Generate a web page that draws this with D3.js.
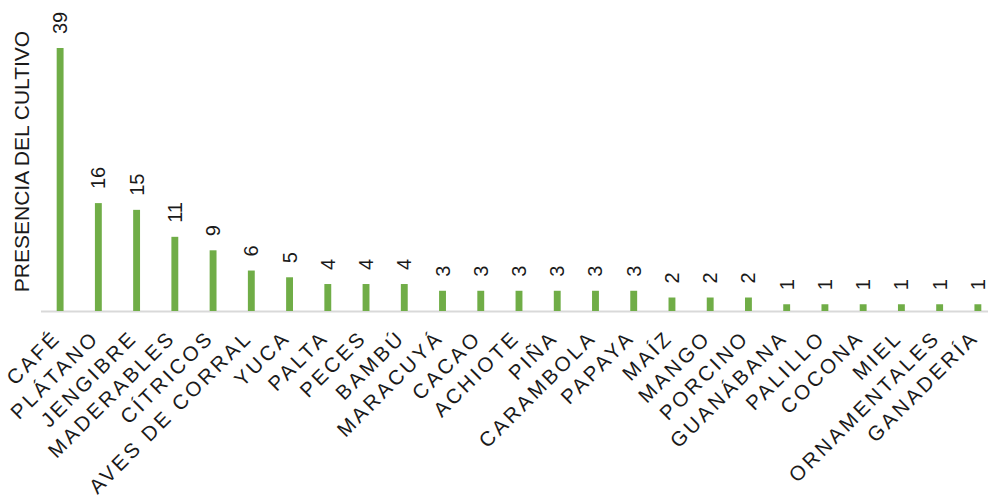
<!DOCTYPE html>
<html>
<head>
<meta charset="utf-8">
<script src="https://cdn.jsdelivr.net/npm/d3@7"></script>
<style>
  body { margin: 0; background: #fff; }
  text { font-family: "Liberation Sans", Arial, sans-serif; fill: #1a1a1a; }
</style>
</head>
<body>
<div id="chart"></div>
<script>
var categories = ["CAFÉ", "PLÁTANO", "JENGIBRE", "MADERABLES", "CÍTRICOS", "AVES DE CORRAL",
  "YUCA", "PALTA", "PECES", "BAMBÚ", "MARACUYÁ", "CACAO", "ACHIOTE", "PIÑA", "CARAMBOLA",
  "PAPAYA", "MAÍZ", "MANGO", "PORCINO", "GUANÁBANA", "PALILLO", "COCONA", "MIEL",
  "ORNAMENTALES", "GANADERÍA"]
var values = [39, 16, 15, 11, 9, 6, 5, 4, 4, 4, 3, 3, 3, 3, 3, 3, 2, 2, 2, 1, 1, 1, 1, 1, 1]
var yTitle = "PRESENCIA DEL CULTIVO"

var width = 988, height = 502
var margin = {top: 48, left: 41, bottom: 191}
var baseY = height - margin.bottom

var svg = d3.select("#chart")
  .append("svg")
  .attr("width", width)
  .attr("height", height)

x = d3.scaleBand()
  .domain(categories)
  .range([margin.left, 997])
  .paddingInner(0.82)
  .paddingOuter(0.41)

y = d3.scaleLinear()
  .domain([0, d3.max(values)])
  .range([baseY, margin.top])

var data = categories.map(function(c, i) { return {name: c, value: values[i]} })

// axis line only
svg.append("line")
  .attr("x1", margin.left)
  .attr("x2", width)
  .attr("y1", baseY + 0.5)
  .attr("y2", baseY + 0.5)
  .attr("stroke", "#d9d9d9")
  .attr("stroke-width", 2)

svg.selectAll(".bar")
  .data(data)
  .enter().append("rect")
  .attr("class", "bar")
  .attr("x", d => x(d.name))
  .attr("width", x.bandwidth())
  .attr("y", d => y(d.value))
  .attr("height", d => y(0) - y(d.value))
  .attr("fill", "#70ad47")

// value labels, rotated
svg.selectAll(".val")
  .data(data)
  .enter().append("text")
  .attr("class", "val")
  .attr("transform", d => "translate(" + (x(d.name) + x.bandwidth() / 2 + 7) + "," + (y(d.value) - 14) + ") rotate(-90)")
  .attr("text-anchor", "start")
  .style("font-size", "20px")
  .text(d => d.value)

// category labels
svg.selectAll(".cat")
  .data(data)
  .enter().append("text")
  .attr("class", "cat")
  .attr("transform", d => "translate(" + (x(d.name) + x.bandwidth() / 2 + 2) + "," + (baseY + 28) + ") rotate(-45)")
  .attr("text-anchor", "end")
  .style("font-size", "20.5px")
  .style("letter-spacing", "3px")
  .text(d => d.name)

svg.append("text")
  .attr("transform", "translate(29," + ((margin.top + baseY) / 2 - 18) + ") rotate(-90)")
  .attr("text-anchor", "middle")
  .style("font-size", "21px")
  .text(yTitle)
</script>
</body>
</html>
